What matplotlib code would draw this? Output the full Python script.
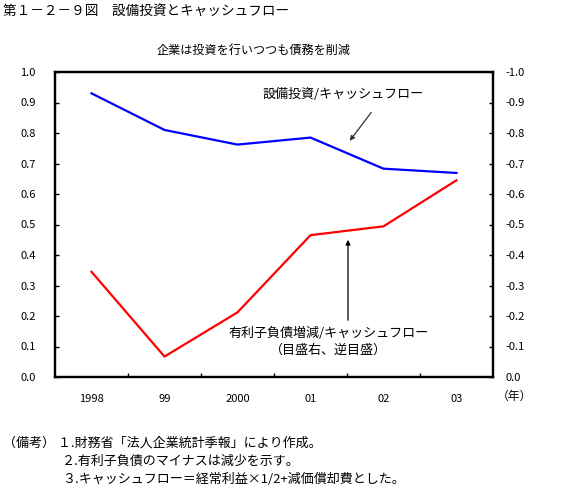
"""第1-2-9図 設備投資とキャッシュフロー の再現。"""

import matplotlib
matplotlib.use("Agg")
import matplotlib.pyplot as plt
import numpy as np

plt.rcParams["font.family"] = ["Noto Sans CJK JP", "DejaVu Sans"]

# ── data ──────────────────────────────────────────────────────────────────

years = ["1998", "99", "2000", "01", "02", "03"]
capex_ratio = [0.93, 0.81, 0.762, 0.785, 0.683, 0.669]          # 左目盛
debt_change_ratio = [-0.345, -0.067, -0.212, -0.465, -0.494, -0.645]  # 右目盛（逆目盛）

left_ticks = np.round(np.arange(0, 1.01, 0.1), 1)
right_ticks = -left_ticks

title = "第１－２－９図　設備投資とキャッシュフロー"
subtitle = "企業は投資を行いつつも債務を削減"
notes = [
    "（備考） １.財務省「法人企業統計季報」により作成。",
    "２.有利子負債のマイナスは減少を示す。",
    "３.キャッシュフロー＝経常利益×1/2+減価償却費とした。",
]

# ── figure ────────────────────────────────────────────────────────────────

fig = plt.figure(figsize=(5.77, 4.87), dpi=100)
ax = fig.add_axes([55 / 577, 1 - 377 / 487, 438 / 577, 305 / 487])
ax2 = ax.twinx()

x = np.arange(len(years))
ax.plot(x, capex_ratio, color="#0000ff", linewidth=1.6, zorder=3)
ax2.plot(x, debt_change_ratio, color="#ff0000", linewidth=1.6, zorder=3)

ax.set_xlim(-0.5, len(years) - 0.5)
ax.set_ylim(0, 1.0)
ax2.set_ylim(0, -1.0)

ax.set_xticks(x)
ax.set_xticklabels(years, fontsize=8)
ax.set_xticks(x[:-1] + 0.5, minor=True)
ax.tick_params(axis="x", which="major", length=0, pad=12)
ax.tick_params(axis="x", which="minor", direction="in", length=3, width=1)

ax.set_yticks(left_ticks)
ax.set_yticklabels([f"{v:.1f}" for v in left_ticks], fontsize=8)
ax.tick_params(axis="y", direction="in", length=3, width=1, pad=14)

ax2.set_yticks(right_ticks)
ax2.set_yticklabels([f"{v:.1f}" if v != 0 else "0.0" for v in right_ticks], fontsize=8)
ax2.tick_params(axis="y", direction="in", length=3, width=1, pad=9)

for a in (ax, ax2):
    for s in a.spines.values():
        s.set_linewidth(1.6)

# ── annotations ───────────────────────────────────────────────────────────

ax.annotate("", xy=(3.514, 0.767), xytext=(3.856, 0.875),
            arrowprops=dict(arrowstyle="-|>", color="#333333", lw=0.9, mutation_scale=7))
ax.text(3.445, 0.925, "設備投資/キャッシュフロー", fontsize=9.4, ha="center", va="center")

ax.annotate("", xy=(3.514, 0.459), xytext=(3.514, 0.177),
            arrowprops=dict(arrowstyle="-|>", color="black", lw=0.9, mutation_scale=7))
ax.text(3.25, 0.144, "有利子負債増減/キャッシュフロー", fontsize=9.4, ha="center", va="center")
ax.text(3.25, 0.089, "（目盛右、逆目盛）", fontsize=9.4, ha="center", va="center")

# ── texts ─────────────────────────────────────────────────────────────────

fig.text(3 / 577, 1 - 12 / 487, title, fontsize=9.8, ha="left", va="center")
fig.text(254 / 577, 1 - 50 / 487, subtitle, fontsize=8.7, ha="center", va="center")
fig.text(514 / 577, 1 - 396 / 487, "（年）", fontsize=8.5, ha="center", va="center")

fig.text(3 / 577, 1 - 443 / 487, notes[0], fontsize=9.4, ha="left", va="center")
fig.text(62 / 577, 1 - 461 / 487, notes[1], fontsize=9.4, ha="left", va="center")
fig.text(62 / 577, 1 - 479 / 487, notes[2], fontsize=9.4, ha="left", va="center")

fig.savefig("out.png", dpi=100)
